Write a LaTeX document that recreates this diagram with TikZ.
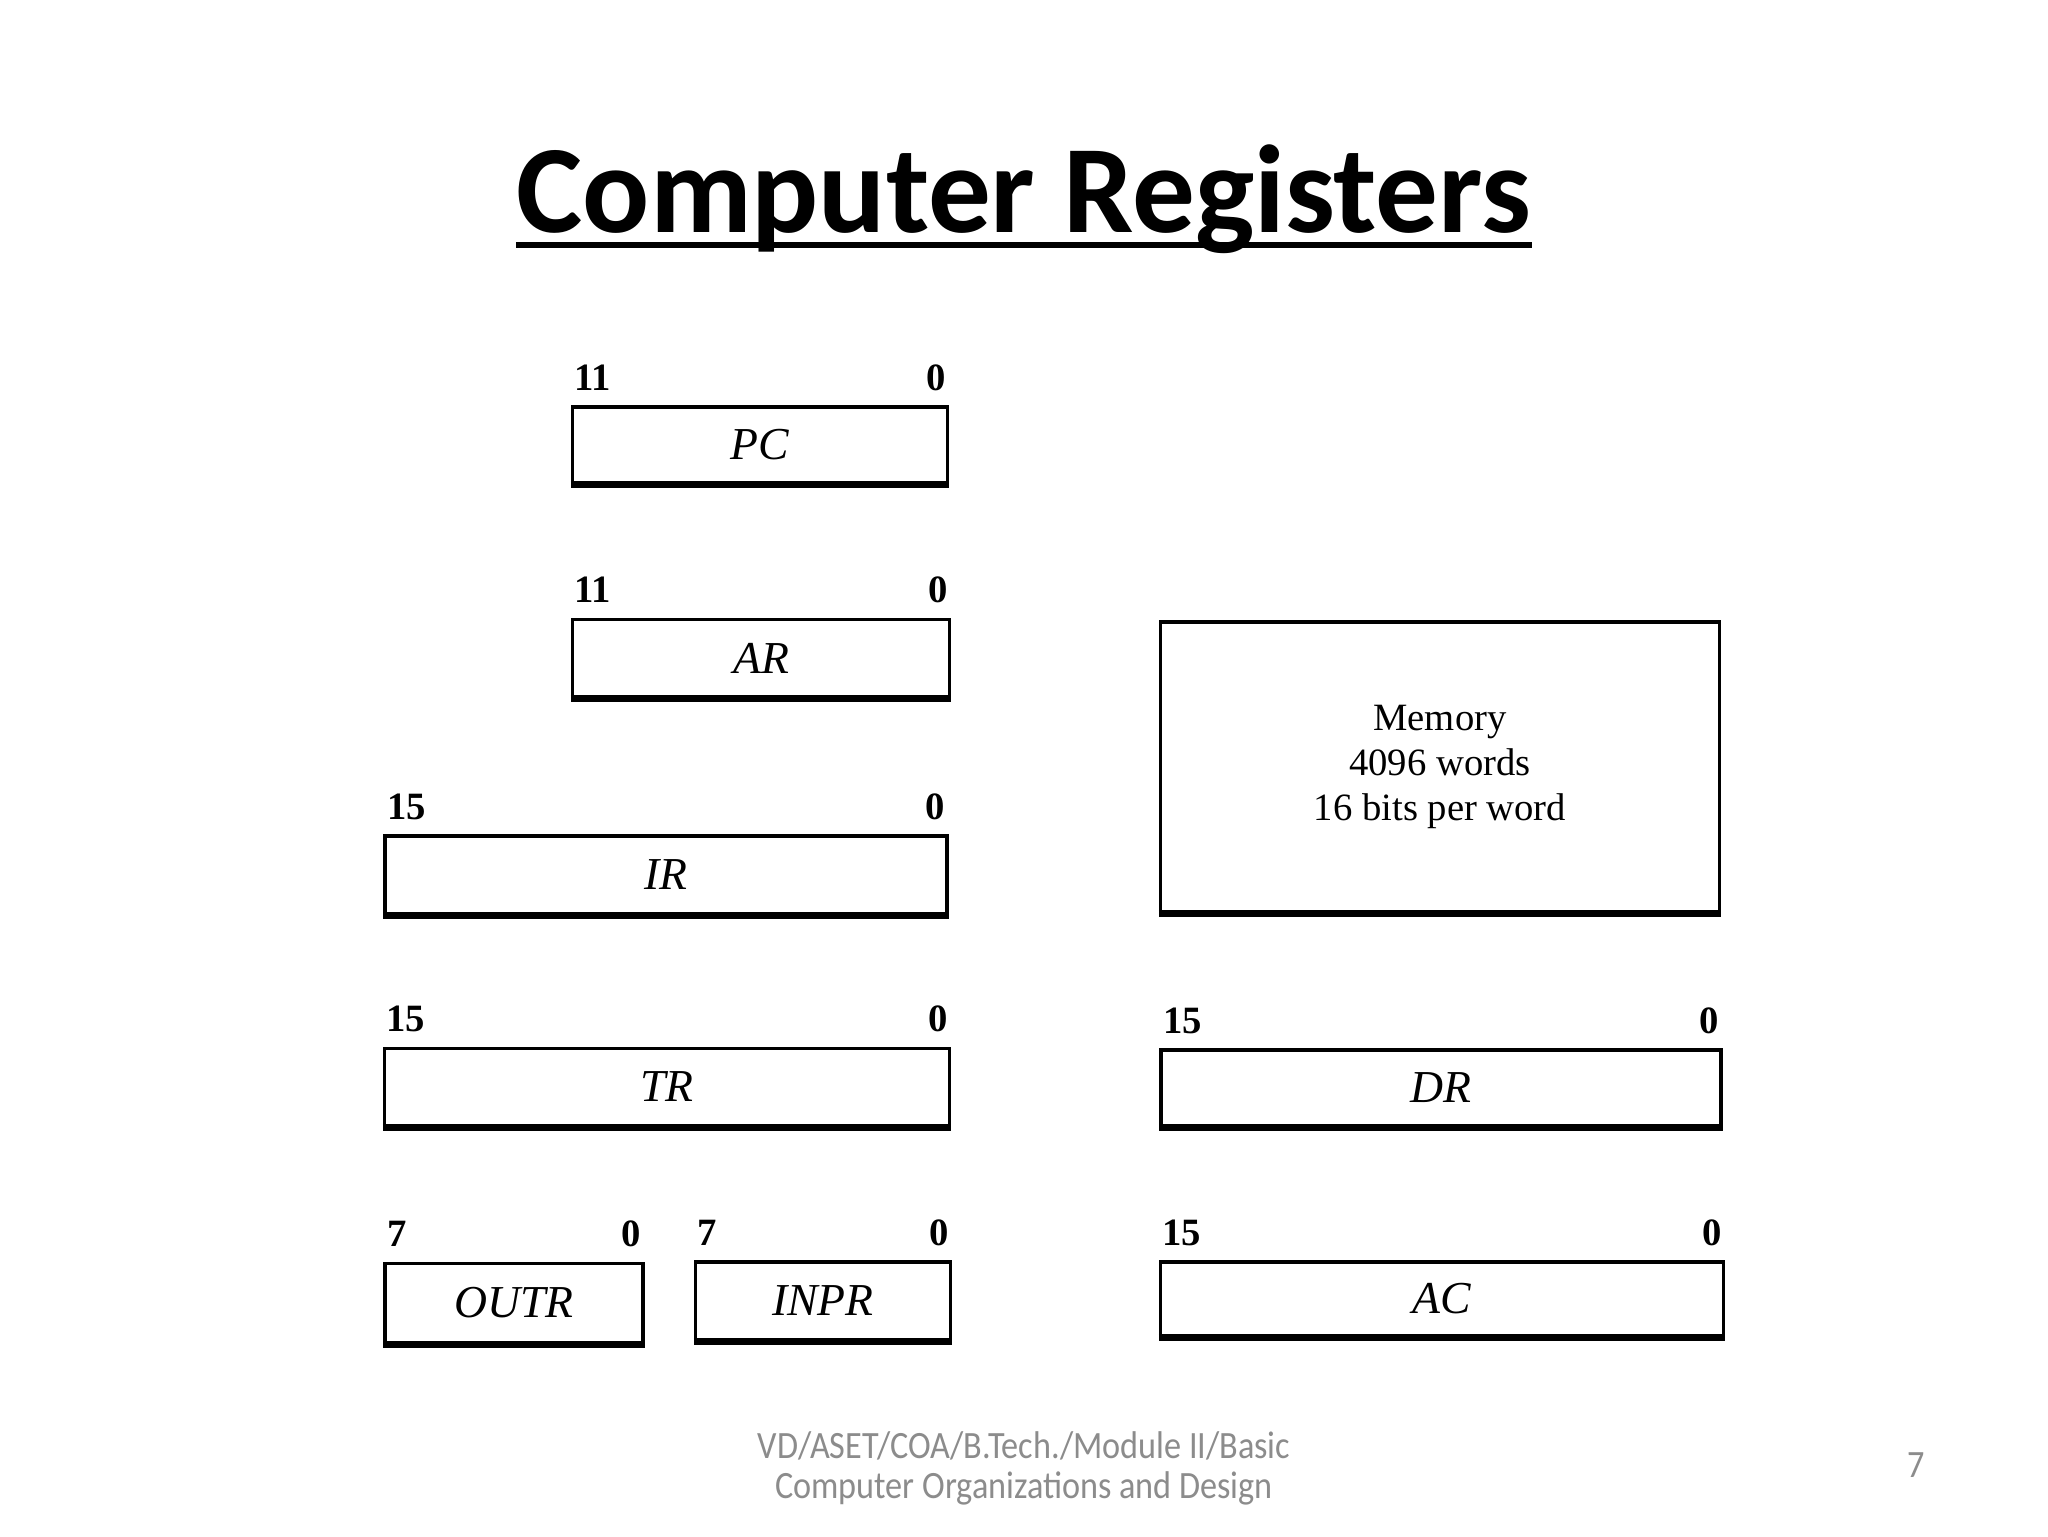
\documentclass[tikz,border=0pt]{standalone}
\usepackage{fontspec}
\setmainfont{Liberation Serif}
\newfontfamily\slidefont{Carlito}
\newfontfamily\footfont[FakeStretch=0.885]{Carlito}
\usepackage{tikz}
\usetikzlibrary{calc}

\begin{document}
\begin{tikzpicture}[x=0.1mm,y=-0.1mm,
  reg/.style={draw,line width=0.9pt,inner sep=0pt,font=\fontsize{13}{15}\selectfont\itshape},
  regbase/.style={line width=2pt},
  bitno/.style={inner sep=0pt,font=\fontsize{11}{13}\selectfont\bfseries},
  slide/.style={inner sep=0pt,text=black!45,font=\footfont\fontsize{11}{11.5}\selectfont}]
\useasboundingbox [fill=white] (0,0) rectangle (2048,1536);

% title
\node [inner sep=0pt,anchor=base,font=\slidefont\bfseries\fontsize{35.6}{40}\selectfont] (title) at (1024,232) {Computer Registers};
\draw [line width=1.7pt] ($(title.base west)+(0,13)$) -- ($(title.base east)+(0,13)$);

% left column
\node [reg,minimum width=37.5mm,minimum height=7.6mm] (pc) at (760,445) {PC};
\draw [regbase] (pc.south west) -- (pc.south east);
\node [bitno,anchor=base west] (pc-hi) at ($(pc.north west)+(3,-15)$) {11};
\node [bitno,anchor=base east] (pc-lo) at ($(pc.north east)+(-3,-15)$) {0};

\node [reg,minimum width=37.7mm,minimum height=7.7mm] (ar) at (761,658) {AR};
\draw [regbase] (ar.south west) -- (ar.south east);
\node [bitno,anchor=base west] (ar-hi) at ($(ar.north west)+(3,-15)$) {11};
\node [bitno,anchor=base east] (ar-lo) at ($(ar.north east)+(-3,-15)$) {0};

\node [reg,minimum width=56.2mm,minimum height=7.8mm] (ir) at (666,875) {IR};
\draw [regbase] (ir.south west) -- (ir.south east);
\node [bitno,anchor=base west] (ir-hi) at ($(ir.north west)+(3,-15)$) {15};
\node [bitno,anchor=base east] (ir-lo) at ($(ir.north east)+(-3,-15)$) {0};

\node [reg,minimum width=56.5mm,minimum height=7.7mm] (tr) at (667,1087) {TR};
\draw [regbase] (tr.south west) -- (tr.south east);
\node [bitno,anchor=base west] (tr-hi) at ($(tr.north west)+(3,-15)$) {15};
\node [bitno,anchor=base east] (tr-lo) at ($(tr.north east)+(-3,-15)$) {0};

\node [reg,minimum width=25.8mm,minimum height=7.9mm] (outr) at (514,1303) {OUTR};
\draw [regbase] (outr.south west) -- (outr.south east);
\node [bitno,anchor=base west] (outr-hi) at ($(outr.north west)+(3,-15)$) {7};
\node [bitno,anchor=base east] (outr-lo) at ($(outr.north east)+(-3,-15)$) {0};

\node [reg,minimum width=25.5mm,minimum height=7.8mm] (inpr) at (823,1301) {INPR};
\draw [regbase] (inpr.south west) -- (inpr.south east);
\node [bitno,anchor=base west] (inpr-hi) at ($(inpr.north west)+(3,-15)$) {7};
\node [bitno,anchor=base east] (inpr-lo) at ($(inpr.north east)+(-3,-15)$) {0};

% right column
\node [reg,font=\fontsize{11}{12.8}\selectfont,align=center,minimum width=55.9mm,minimum height=29mm] (mem) at (1440,767) {Memory\\4096 words\\16 bits per word};
\draw [regbase] (mem.south west) -- (mem.south east);

\node [reg,minimum width=56mm,minimum height=7.6mm] (dr) at (1441,1088) {DR};
\draw [regbase] (dr.south west) -- (dr.south east);
\node [bitno,anchor=base west] (dr-hi) at ($(dr.north west)+(3,-15)$) {15};
\node [bitno,anchor=base east] (dr-lo) at ($(dr.north east)+(-3,-15)$) {0};

\node [reg,minimum width=56.3mm,minimum height=7.4mm] (ac) at (1442,1299) {AC};
\draw [regbase] (ac.south west) -- (ac.south east);
\node [bitno,anchor=base west] (ac-hi) at ($(ac.north west)+(3,-15)$) {15};
\node [bitno,anchor=base east] (ac-lo) at ($(ac.north east)+(-3,-15)$) {0};

% footer
\node [slide,anchor=base] (foot1) at (1024,1458) {VD/ASET/COA/B.Tech./Module II/Basic};
\node [slide,anchor=base] (foot2) at (1024,1498) {Computer Organizations and Design};
\node [slide,anchor=base] (pageno) at (1916,1477) {7};
\end{tikzpicture}
\end{document}
